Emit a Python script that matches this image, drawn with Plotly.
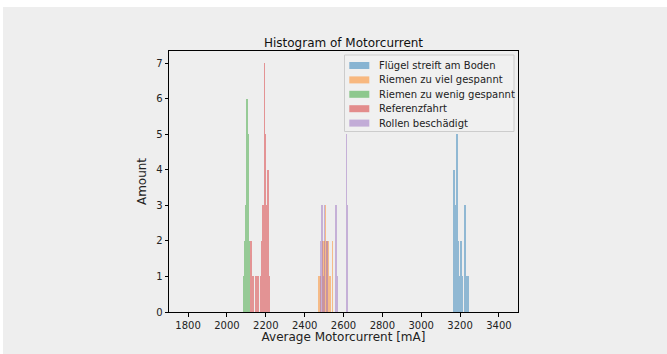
import plotly.graph_objects as go

# ---- data ----
series_names = [
    "Flügel streift am Boden",
    "Riemen zu viel gespannt",
    "Riemen zu wenig gespannt",
    "Referenzfahrt",
    "Rollen beschädigt",
]

fluegel_x = [3170, 3175, 3180, 3185, 3190, 3195, 3204, 3210, 3224, 3231, 3240]
fluegel_y = [4, 3, 2, 5, 2, 1, 2, 1, 3, 1, 1]

viel_x = [2475, 2480, 2495, 2500, 2507, 2512, 2520, 2527, 2532, 2543]
viel_y = [1, 1, 2, 2, 3, 2, 2, 1, 1, 2]

wenig_x = [2085, 2091, 2098, 2103, 2108, 2116]
wenig_y = [1, 2, 3, 6, 5, 2]

referenz_x = [2124, 2135, 2149, 2159, 2173, 2180, 2186, 2194, 2199, 2204, 2212, 2219]
referenz_y = [2, 1, 1, 1, 1, 2, 3, 7, 5, 3, 4, 1]

rollen_x = [2483, 2490, 2497, 2503, 2515, 2560, 2568, 2616, 2621]
rollen_y = [2, 3, 1, 3, 2, 3, 1, 5, 3]

x_ticks = [1800, 2000, 2200, 2400, 2600, 2800, 3000, 3200, 3400]
y_ticks = [0, 1, 2, 3, 4, 5, 6, 7]

colors = ["#1f77b4", "#ff7f0e", "#2ca02c", "#d62728", "#9467bd"]
xs = [fluegel_x, viel_x, wenig_x, referenz_x, rollen_x]
ys = [fluegel_y, viel_y, wenig_y, referenz_y, rollen_y]

fig = go.Figure()
for name, x, y, c in zip(series_names, xs, ys, colors):
    fig.add_trace(go.Bar(
        x=x, y=y, name=name, width=3.4,
        marker=dict(color=c, line=dict(width=0)),
        opacity=0.45, showlegend=False,
    ))

BG = "#eeeeee"
TXT = "#222222"

# plot area in pixels: x 169..518, y 51..312
def px(x):
    return (x - 169) / 349.0

def py(y):
    return (312 - y) / 261.0

shapes = [dict(type="rect", xref="paper", yref="paper",
               x0=px(3), x1=px(670), y0=py(356), y1=py(7),
               fillcolor=BG, line=dict(width=0), layer="below")]
annotations = []

# legend (matplotlib style)
shapes.append(dict(type="rect", xref="paper", yref="paper",
                   x0=px(344.5), x1=px(514), y0=py(131.5), y1=py(55),
                   fillcolor="rgba(240,240,240,0.8)",
                   line=dict(color="#cccccc", width=1), layer="above"))
row_y = [65.5, 79.9, 94.3, 108.7, 123.1]
for name, c, ry in zip(series_names, colors, row_y):
    shapes.append(dict(type="rect", xref="paper", yref="paper",
                       x0=px(349.3), x1=px(369.3), y0=py(ry + 3.5), y1=py(ry - 3.5),
                       fillcolor=c, opacity=0.5, line=dict(width=0), layer="above"))
    annotations.append(dict(text=name, xref="paper", yref="paper",
                            x=px(376.5), y=py(ry), xanchor="left", yanchor="middle",
                            showarrow=False,
                            font=dict(family="DejaVu Sans", size=10, color=TXT)))

fig.update_layout(
    width=667, height=354,
    margin=dict(l=169, r=149, t=51, b=42),
    paper_bgcolor="white",
    plot_bgcolor="rgba(0,0,0,0)",
    barmode="overlay",
    bargap=0,
    showlegend=False,
    font=dict(family="DejaVu Sans", size=10, color=TXT),
    title=dict(text="Histogram of Motorcurrent", x=0.5, xanchor="center",
               xref="paper", y=1, yref="paper", yanchor="bottom",
               pad=dict(b=4), font=dict(family="DejaVu Sans", size=12, color="#111111")),
    shapes=shapes,
    annotations=annotations,
    xaxis=dict(range=[1702, 3498], tickvals=x_ticks, ticks="outside", ticklen=3.5,
               tickcolor="#000", showline=True, linecolor="#000", linewidth=1, mirror=True,
               showgrid=False, zeroline=False,
               title=dict(text="Average Motorcurrent [mA]", standoff=3)),
    yaxis=dict(range=[0, 7.35], tickvals=y_ticks, ticks="outside", ticklen=3.5,
               tickcolor="#000", showline=True, linecolor="#000", linewidth=1, mirror=True,
               showgrid=False, zeroline=False,
               title=dict(text="Amount", standoff=6)),
)

fig.write_html("out.html", config={"displayModeBar": False},
               post_script="document.body.style.margin='0px';")
